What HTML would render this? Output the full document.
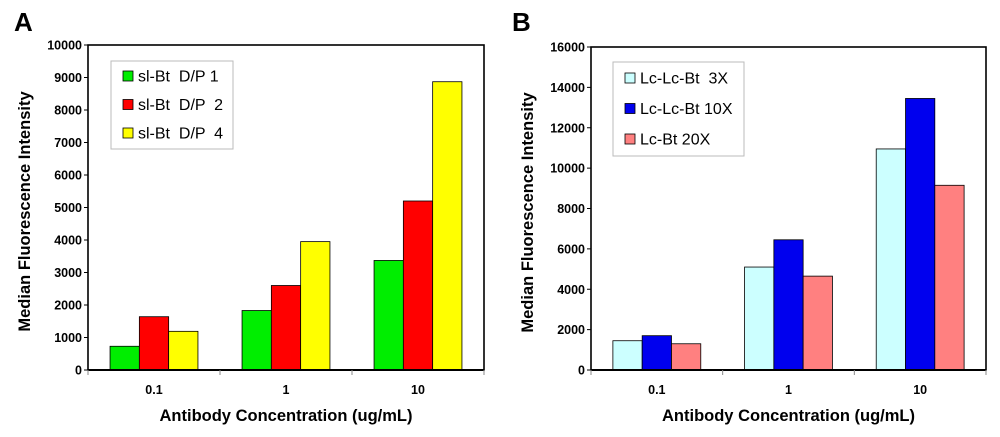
<!DOCTYPE html>
<html><head><meta charset="utf-8"><style>
body{margin:0;background:#fff;width:1000px;height:432px;overflow:hidden}
svg text{font-family:"Liberation Sans",Arial,sans-serif;white-space:pre}
</style></head><body>
<svg id="c" width="1000" height="432" xmlns="http://www.w3.org/2000/svg"></svg>
<script>
const categories = ["0.1","1","10"];
const seriesA1 = [730,1830,3370];
const seriesA2 = [1640,2600,5200];
const seriesA3 = [1190,3950,8870];
const namesA = ["sl-Bt  D/P 1","sl-Bt  D/P  2","sl-Bt  D/P  4"];
const ticksA = [0,1000,2000,3000,4000,5000,6000,7000,8000,9000,10000];
const seriesB1 = [1450,5100,10950];
const seriesB2 = [1700,6450,13450];
const seriesB3 = [1300,4650,9150];
const namesB = ["Lc-Lc-Bt  3X","Lc-Lc-Bt 10X","Lc-Bt 20X"];
const ticksB = [0,2000,4000,6000,8000,10000,12000,14000,16000];

const svg=document.getElementById('c');
const NS='http://www.w3.org/2000/svg';
function mk(tag,attrs,parent){const e=document.createElementNS(NS,tag);for(const k in attrs)e.setAttribute(k,attrs[k]);(parent||svg).appendChild(e);return e;}

function panel(cfg){
  const g=mk('g',{});
  
  
  const {L,T,R,B,max}=cfg;
  const y=v=>B-(v/max)*(B-T);
  const cw=(R-L)/categories.length;
  const bw=29.3, pad=(cw-3*bw)/2;
  const x=(ci,si)=>L+ci*cw+pad+si*bw;
  const t=mk('text',{x:cfg.lx,y:31,'font-size':26,'font-weight':'bold'},g);t.textContent=cfg.letter;
  
  const fr=mk('rect',{x:L,y:T,width:R-L,height:B-T,fill:'#fff',stroke:'#000','stroke-width':1.6},g);
  
  cfg.ticks.forEach(v=>{
    mk('line',{x1:L-4,x2:L,y1:y(v),y2:y(v),stroke:'#000','stroke-width':1},g);
    const tl=mk('text',{x:L-6,y:y(v)+4.5,'font-size':12.5,'font-weight':'bold','text-anchor':'end'},g);
    tl.textContent=v;
    
  });
  cfg.series.forEach((s,si)=>{
    s.forEach((v,ci)=>{
      const r=mk('rect',{x:x(ci,si),y:y(v),width:bw,height:B-y(v),fill:cfg.colors[si],stroke:'#000','stroke-width':0.8},g);
      
      
    });
  });
  mk('line',{x1:L,x2:R,y1:B,y2:B,stroke:'#000','stroke-width':2},g);
  for(let i=0;i<=categories.length;i++) mk('line',{x1:L+i*cw,x2:L+i*cw,y1:B,y2:B+5,stroke:'#888','stroke-width':1},g);
  categories.forEach((c,ci)=>{
    const tl=mk('text',{x:L+(ci+0.5)*cw,y:394,'font-size':12.5,'font-weight':'bold','text-anchor':'middle'},g);
    tl.textContent=c;
    
  });
  const xt=mk('text',{x:(L+R)/2,y:421,'font-size':16.5,'font-weight':'bold','text-anchor':'middle'},g);
  xt.textContent='Antibody Concentration (ug/mL)';
  
  const yt=mk('text',{x:0,y:0,'font-size':16.5,'font-weight':'bold','text-anchor':'middle',transform:`translate(${cfg.yx},${(T+B)/2+4}) rotate(-90)`},g);
  yt.textContent='Median Fluorescence Intensity';
  
  const lg=mk('g',{},g);
  
  const lgr=cfg.legend;
  mk('rect',{x:lgr.x,y:lgr.y,width:lgr.w,height:lgr.h,fill:'#fff',stroke:'#bbb','stroke-width':1},lg);
  cfg.names.forEach((n,i)=>{
    const cy=lgr.y+lgr.first+i*lgr.step;
    const e=mk('g',{},lg);
    
    mk('rect',{x:lgr.x+12,y:cy-5,width:10,height:10,fill:cfg.colors[i],stroke:'#000','stroke-width':0.8},e);
    const tx=mk('text',{x:lgr.x+27,y:cy+5.5,'font-size':16},e);tx.textContent=n;
  });
}
panel({id:'a',letter:'A',lx:14,L:88,T:45,R:484,B:370,max:10000,ticks:ticksA,
  series:[seriesA1,seriesA2,seriesA3],colors:['#00ee00','#ff0000','#ffff00'],names:namesA,yx:30,
  legend:{x:111,y:61,w:122,h:88,first:15,step:28.5}});
panel({id:'b',letter:'B',lx:512,L:591,T:47,R:986,B:370,max:16000,ticks:ticksB,
  series:[seriesB1,seriesB2,seriesB3],colors:['#ccffff','#0000ee','#ff8080'],names:namesB,yx:533,
  legend:{x:613,y:62,w:131,h:94,first:16,step:30.5}});
</script>
</body></html>
